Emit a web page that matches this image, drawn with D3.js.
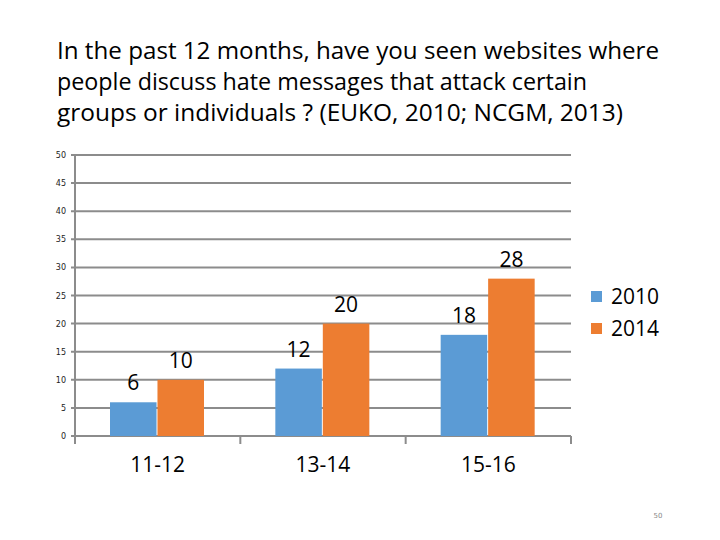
<!DOCTYPE html>
<html><head><meta charset="utf-8">
<script src="https://cdn.jsdelivr.net/npm/d3@7"></script>
<style>body{margin:0;background:#fff}svg{display:block}</style>
</head><body>
<svg id="c" width="720" height="540"></svg>
<script>
const titleLines = ["In the past 12 months, have you seen websites where","people discuss hate messages that attack certain","groups or individuals ? (EUKO, 2010; NCGM, 2013)"];
const categories = ["11-12","13-14","15-16"];
const seriesNames = ["2010","2014"];
const values2010 = [6,12,18];
const values2014 = [10,20,28];
const yTicks = [0,5,10,15,20,25,30,35,40,45,50];
const colors = ["#5B9BD5","#ED7D31"];

const svg = d3.select("#c");
const font = "Liberation Sans Narrow, 'Open Sans', Arial, sans-serif";

// title
const titleW = [602, 530, 566];
titleLines.forEach((t,i)=>{
  svg.append("text").attr("x",57).attr("y",59+i*31).attr("font-family","'Open Sans', sans-serif")
    .attr("font-size",23).attr("fill","#000").attr("textLength",titleW[i]).attr("lengthAdjust","spacingAndGlyphs").text(t);
});

const x0 = d3.scaleBand().domain(categories).range([75,571]).paddingInner(0).paddingOuter(0);
const x1 = d3.scaleBand().domain(seriesNames).range([35,129]).paddingInner(0.02);
const y = d3.scaleLinear().domain([0,50]).range([436,155]);

// gridlines
svg.append("g").selectAll("line").data(yTicks).join("line")
  .attr("x1",71).attr("x2",571).attr("y1",d=>y(d)).attr("y2",d=>y(d))
  .attr("stroke","#8c8c8c").attr("stroke-width",2);
// y axis
svg.append("line").attr("x1",75).attr("x2",75).attr("y1",y(50)).attr("y2",444).attr("stroke","#8c8c8c").attr("stroke-width",2);
// category tick marks
svg.append("g").selectAll("line").data(categories.slice(1).concat(["end"])).join("line")
  .attr("x1",(d,i)=>i<2?x0(d):571).attr("x2",(d,i)=>i<2?x0(d):571)
  .attr("y1",436).attr("y2",444).attr("stroke","#8c8c8c").attr("stroke-width",2);

// y tick labels
svg.append("g").selectAll("text").data(yTicks).join("text")
  .attr("x",66).attr("y",d=>y(d)+3).attr("text-anchor","end")
  .attr("font-family","'DejaVu Sans', sans-serif").attr("font-size",8).attr("fill","#222").text(d=>d);

const series = [values2010, values2014];
const data = [];
categories.forEach((c,i)=>series.forEach((s,j)=>data.push({c, k:seriesNames[j], v:s[i], j})));

svg.append("g").selectAll("rect").data(data).join("rect")
  .attr("x",d=>x0(d.c)+x1(d.k)).attr("width",x1.bandwidth())
  .attr("y",d=>y(d.v)).attr("height",d=>y(0)-y(d.v)).attr("fill",d=>colors[d.j]);

svg.append("g").selectAll("text").data(data).join("text")
  .attr("x",d=>x0(d.c)+x1(d.k)+x1.bandwidth()/2).attr("y",d=>y(d.v)-12)
  .attr("text-anchor","middle").attr("font-family",font).attr("font-size",21).attr("fill","#000").text(d=>d.v);

// category labels
svg.append("g").selectAll("text").data(categories).join("text")
  .attr("x",d=>x0(d)+x0.bandwidth()/2).attr("y",472).attr("text-anchor","middle")
  .attr("font-family",font).attr("font-size",21).attr("fill","#000").text(d=>d);

// legend
const lg = svg.append("g").selectAll("g").data(seriesNames).join("g")
  .attr("transform",(d,i)=>`translate(591,${291+i*32})`);
lg.append("rect").attr("width",11).attr("height",11).attr("fill",(d,i)=>colors[i]);
lg.append("text").attr("x",20).attr("y",13).attr("font-family",font).attr("font-size",21).attr("fill","#000").text(d=>d);

// page number
svg.append("text").attr("x",658).attr("y",518).attr("text-anchor","middle").attr("font-family","'DejaVu Sans', sans-serif")
  .attr("font-size",7).attr("fill","#888").text("50");
</script>
</body></html>
